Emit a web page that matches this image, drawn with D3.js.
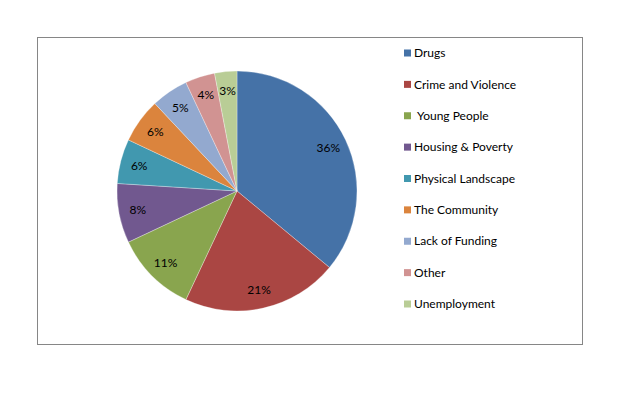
<!DOCTYPE html>
<html><head><meta charset="utf-8">
<script src="https://cdn.jsdelivr.net/npm/d3@7"></script>
<style>body{margin:0;background:#fff}svg{display:block}</style>
</head><body>
<script>
const categories = ["Drugs","Crime and Violence","Young People","Housing & Poverty","Physical Landscape","The Community","Lack of Funding","Other","Unemployment"];
const values = [36,21,11,8,6,6,5,4,3];
const colors = ["#4572A7","#AA4643","#89A54E","#71588F","#4198AF","#DB843D","#93A9CF","#D19392","#B9CD96"];

const W=627,H=398;
const svg=d3.select("body").append("svg").attr("width",W).attr("height",H);
svg.append("rect").attr("x",37.5).attr("y",37.5).attr("width",545).attr("height",307)
  .attr("fill","#fff").attr("stroke","#868686").attr("stroke-width",1);

const cx=237,cy=191,R=120;
const pie=d3.pie().sort(null).value(d=>d.v);
const data=pie(categories.map((c,i)=>({c,v:values[i],col:colors[i]})));
const arc=d3.arc().innerRadius(0).outerRadius(R);
const labelArc=d3.arc().innerRadius(101).outerRadius(101);
const g=svg.append("g").attr("transform",`translate(${cx},${cy})`);
g.selectAll("path").data(data).join("path").attr("d",arc)
  .attr("fill",d=>d.data.col).attr("stroke","#ffffff").attr("stroke-opacity",0.5).attr("stroke-width",0.6);
const total=d3.sum(values);
g.selectAll("text").data(data).join("text")
  .attr("transform",d=>`translate(${labelArc.centroid(d)})`)
  .attr("text-anchor","middle").attr("dy","0.35em")
  .attr("font-family","Lato, 'Open Sans', sans-serif").attr("font-size",12).attr("fill","#000")
  .text(d=>Math.round(d.data.v/total*100)+"%");

const ly=d3.scalePoint().domain(categories).range([53,304]);
const lg=svg.append("g");
const items=lg.selectAll("g").data(categories).join("g").attr("transform",d=>`translate(404,${ly(d)})`);
items.append("rect").attr("x",0).attr("y",-3.5).attr("width",7).attr("height",7).attr("fill",(d,i)=>colors[i]);
items.append("text").attr("x",d=>d==="Young People"?13:10).attr("dy","0.35em")
  .attr("font-family","Lato, 'Open Sans', sans-serif").attr("font-size",12).attr("fill","#000")
  .text(d=>d);
</script>
</body></html>
